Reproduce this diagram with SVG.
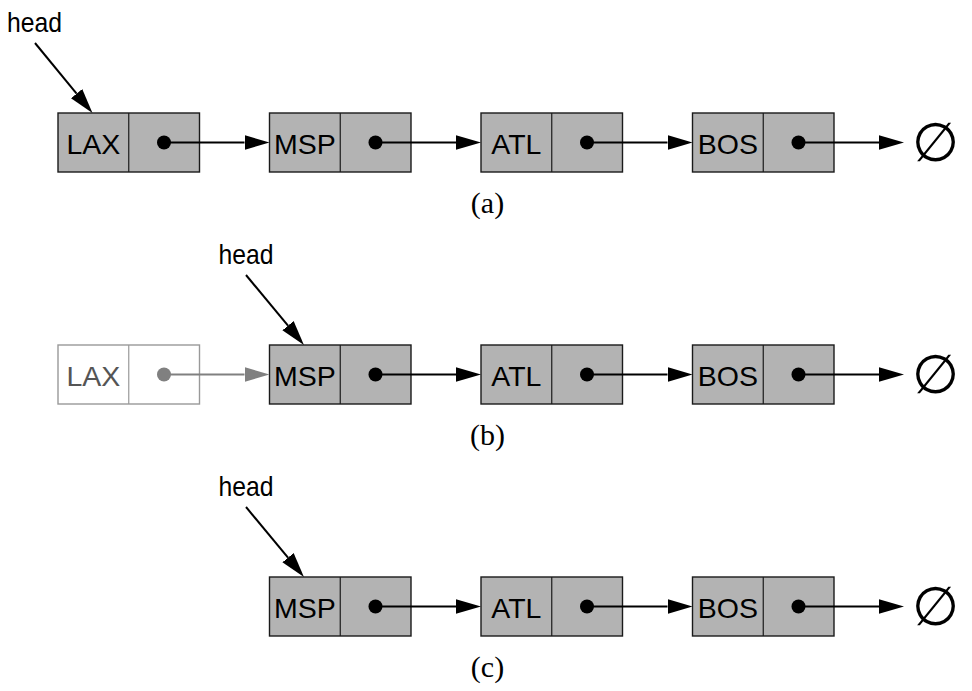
<svg xmlns="http://www.w3.org/2000/svg" width="972" height="691" viewBox="0 0 972 691">
  <defs>
    <style>
      .box { fill: #b3b3b3; stroke: #1a1a1a; stroke-width: 1.4; }
      .div { stroke: #1a1a1a; stroke-width: 1.2; }
      .fbox { fill: #ffffff; stroke: #999999; stroke-width: 1.4; }
      .fdiv { stroke: #999999; stroke-width: 1.2; }
      .lbl { font-family: "Liberation Sans", Arial, sans-serif; font-size: 28.5px; fill: #000; text-anchor: middle; }
      .flbl { font-family: "Liberation Sans", Arial, sans-serif; font-size: 28.5px; fill: #555555; text-anchor: middle; }
      .head { font-family: "Liberation Sans", Arial, sans-serif; font-size: 28.5px; fill: #000; text-anchor: middle; }
      .cap { font-family: "Liberation Serif", "Times New Roman", serif; font-size: 30px; fill: #000; text-anchor: middle; }
      .null { font-family: "DejaVu Sans", sans-serif; font-size: 54px; fill: #000; text-anchor: middle; }
      .ln { stroke: #000; stroke-width: 2; fill: none; marker-end: url(#ah); }
      .fln { stroke: #808080; stroke-width: 2; fill: none; marker-end: url(#ahg); }
      .dot { fill: #000; }
      .fdot { fill: #808080; }
    </style>
    <marker id="ah" markerUnits="userSpaceOnUse" markerWidth="26" markerHeight="16" viewBox="0 0 26 16" refX="0" refY="8" orient="auto">
      <path d="M0,0.7 L25,8 L0,15.3 z" fill="#000"/>
    </marker>
    <marker id="ahg" markerUnits="userSpaceOnUse" markerWidth="26" markerHeight="16" viewBox="0 0 26 16" refX="0" refY="8" orient="auto">
      <path d="M0,0.7 L25,8 L0,15.3 z" fill="#808080"/>
    </marker>
  </defs>

  <!-- Row (a) -->
  <g id="a-head"><text class="head" x="34.5" y="32" textLength="55" lengthAdjust="spacingAndGlyphs">head</text></g>
  <g id="a-LAX">
    <rect class="box" x="58" y="113" width="141.5" height="59"/>
    <line class="div" x1="128.75" y1="113" x2="128.75" y2="172"/>
    <text class="lbl" x="93.4" y="154">LAX</text>
    <circle class="dot" cx="164" cy="142.5" r="7"/>
  </g>
  <g id="a-MSP">
    <rect class="box" x="269.5" y="113" width="141.5" height="59"/>
    <line class="div" x1="340.25" y1="113" x2="340.25" y2="172"/>
    <text class="lbl" x="304.9" y="154">MSP</text>
    <circle class="dot" cx="375.5" cy="142.5" r="7"/>
  </g>
  <g id="a-ATL">
    <rect class="box" x="481" y="113" width="141.5" height="59"/>
    <line class="div" x1="551.75" y1="113" x2="551.75" y2="172"/>
    <text class="lbl" x="516.4" y="154">ATL</text>
    <circle class="dot" cx="587" cy="142.5" r="7"/>
  </g>
  <g id="a-BOS">
    <rect class="box" x="692.5" y="113" width="141.5" height="59"/>
    <line class="div" x1="763.25" y1="113" x2="763.25" y2="172"/>
    <text class="lbl" x="727.9" y="154">BOS</text>
    <circle class="dot" cx="798.5" cy="142.5" r="7"/>
  </g>
  <g id="a-null"><text class="null" x="935.5" y="161">∅</text></g>
  <text class="cap" x="487.5" y="213">(a)</text>

  <!-- Row (b) -->
  <g id="b-head"><text class="head" x="246" y="264" textLength="55" lengthAdjust="spacingAndGlyphs">head</text></g>
  <g id="b-LAX">
    <rect class="fbox" x="58" y="345" width="141.5" height="59"/>
    <line class="fdiv" x1="128.75" y1="345" x2="128.75" y2="404"/>
    <text class="flbl" x="93.4" y="386">LAX</text>
    <circle class="fdot" cx="164" cy="374.5" r="7"/>
  </g>
  <g id="b-MSP">
    <rect class="box" x="269.5" y="345" width="141.5" height="59"/>
    <line class="div" x1="340.25" y1="345" x2="340.25" y2="404"/>
    <text class="lbl" x="304.9" y="386">MSP</text>
    <circle class="dot" cx="375.5" cy="374.5" r="7"/>
  </g>
  <g id="b-ATL">
    <rect class="box" x="481" y="345" width="141.5" height="59"/>
    <line class="div" x1="551.75" y1="345" x2="551.75" y2="404"/>
    <text class="lbl" x="516.4" y="386">ATL</text>
    <circle class="dot" cx="587" cy="374.5" r="7"/>
  </g>
  <g id="b-BOS">
    <rect class="box" x="692.5" y="345" width="141.5" height="59"/>
    <line class="div" x1="763.25" y1="345" x2="763.25" y2="404"/>
    <text class="lbl" x="727.9" y="386">BOS</text>
    <circle class="dot" cx="798.5" cy="374.5" r="7"/>
  </g>
  <g id="b-null"><text class="null" x="935.5" y="393">∅</text></g>
  <text class="cap" x="487.5" y="445">(b)</text>

  <!-- Row (c) -->
  <g id="c-head"><text class="head" x="246" y="496" textLength="55" lengthAdjust="spacingAndGlyphs">head</text></g>
  <g id="c-MSP">
    <rect class="box" x="269.5" y="577" width="141.5" height="59"/>
    <line class="div" x1="340.25" y1="577" x2="340.25" y2="636"/>
    <text class="lbl" x="304.9" y="618">MSP</text>
    <circle class="dot" cx="375.5" cy="606.5" r="7"/>
  </g>
  <g id="c-ATL">
    <rect class="box" x="481" y="577" width="141.5" height="59"/>
    <line class="div" x1="551.75" y1="577" x2="551.75" y2="636"/>
    <text class="lbl" x="516.4" y="618">ATL</text>
    <circle class="dot" cx="587" cy="606.5" r="7"/>
  </g>
  <g id="c-BOS">
    <rect class="box" x="692.5" y="577" width="141.5" height="59"/>
    <line class="div" x1="763.25" y1="577" x2="763.25" y2="636"/>
    <text class="lbl" x="727.9" y="618">BOS</text>
    <circle class="dot" cx="798.5" cy="606.5" r="7"/>
  </g>
  <g id="c-null"><text class="null" x="935.5" y="625">∅</text></g>
  <text class="cap" x="487.5" y="677">(c)</text>

  <!-- Connectors -->
  <g id="connectors">
    <!-- row a -->
    <line class="ln" x1="35" y1="43" x2="76.6" y2="93.7"/>
    <line class="ln" x1="164" y1="142.5" x2="244.5" y2="142.5"/>
    <line class="ln" x1="375.5" y1="142.5" x2="456" y2="142.5"/>
    <line class="ln" x1="587" y1="142.5" x2="667.5" y2="142.5"/>
    <line class="ln" x1="798.5" y1="142.5" x2="879" y2="142.5"/>
    <!-- row b -->
    <line class="ln" x1="246" y1="275" x2="288" y2="325.7"/>
    <line class="fln" x1="164" y1="374.5" x2="244.5" y2="374.5"/>
    <line class="ln" x1="375.5" y1="374.5" x2="456" y2="374.5"/>
    <line class="ln" x1="587" y1="374.5" x2="667.5" y2="374.5"/>
    <line class="ln" x1="798.5" y1="374.5" x2="879" y2="374.5"/>
    <!-- row c -->
    <line class="ln" x1="246" y1="507" x2="288" y2="557.7"/>
    <line class="ln" x1="375.5" y1="606.5" x2="456" y2="606.5"/>
    <line class="ln" x1="587" y1="606.5" x2="667.5" y2="606.5"/>
    <line class="ln" x1="798.5" y1="606.5" x2="879" y2="606.5"/>
  </g>
</svg>
